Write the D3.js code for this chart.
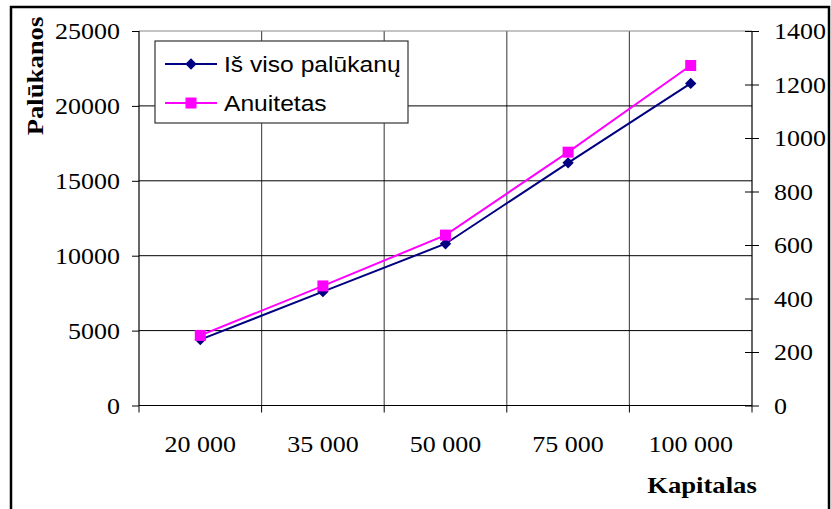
<!DOCTYPE html>
<html>
<head>
<meta charset="utf-8">
<script src="https://cdn.jsdelivr.net/npm/d3@7"></script>
<style>
  body { margin: 0; background: #fff; }
  svg { display: block; }
</style>
</head>
<body>
<svg id="chart"></svg>
<script>
(() => {
let categories = ['20 000', '35 000', '50 000', '75 000', '100 000'];
let totalInterest = [4400, 7600, 10800, 16200, 21500];   // left axis
let annuity = [262, 447, 637, 947, 1271];                // right axis
let leftTicks = [0, 5000, 10000, 15000, 20000, 25000];
let rightTicks = [0, 200, 400, 600, 800, 1000, 1200, 1400];
let seriesNames = ['Iš viso palūkanų', 'Anuitetas'];

let svgWidth = 831,
    svgHeight = 509,
    left = 139,
    right = 752,
    top = 31,
    bottom = 405.5,
    serif = '"Liberation Serif", "Times New Roman", serif',
    sans = '"Liberation Sans", Arial, sans-serif',
    stretch = 1.13;

let svg = d3.select('#chart')
    .attr('width', svgWidth)
    .attr('height', svgHeight);

svg.append('rect')
    .attr('x', 11).attr('y', 7)
    .attr('width', 818).attr('height', 520)
    .attr('fill', '#fff')
    .attr('stroke', '#000')
    .attr('stroke-width', 2.5);

let xScale = d3.scaleBand()
    .domain(categories)
    .range([left, right]);

let yLeft = d3.scaleLinear()
    .domain([0, 25000])
    .range([bottom, top]);

let yRight = d3.scaleLinear()
    .domain([0, 1400])
    .range([bottom, top]);

// vertical grid at category boundaries
let bounds = categories.map(c => xScale(c)).concat([right]);
svg.append('g').selectAll('line')
    .data(bounds.slice(1, -1))
    .enter()
    .append('line')
    .attr('x1', d => d).attr('x2', d => d)
    .attr('y1', top).attr('y2', bottom)
    .attr('stroke', '#555')
    .attr('stroke-width', 1.2);

// horizontal grid
svg.append('g').selectAll('line')
    .data(leftTicks.slice(1))
    .enter()
    .append('line')
    .attr('x1', left).attr('x2', right)
    .attr('y1', d => yLeft(d)).attr('y2', d => yLeft(d))
    .attr('stroke', d => d === 25000 ? '#888' : '#000')
    .attr('stroke-width', 1);

// left axis
let leftAxis = svg.append('g')
    .attr('transform', `translate(${left},0)`)
    .call(d3.axisLeft(yLeft).tickValues(leftTicks).tickSize(7).tickPadding(0).tickFormat(d3.format('d')));
leftAxis.selectAll('.tick text')
    .attr('x', null).attr('dy', '0.34em')
    .attr('transform', `translate(-19,0) scale(${stretch},1)`);

// right axis
let rightAxis = svg.append('g')
    .attr('transform', `translate(${right},0)`)
    .call(d3.axisRight(yRight).tickValues(rightTicks).tickSize(7).tickPadding(0).tickFormat(d3.format('d')));
rightAxis.selectAll('.tick line').attr('x1', -7);
rightAxis.selectAll('.tick text')
    .attr('x', null).attr('dy', '0.34em')
    .attr('transform', `translate(22,0) scale(${stretch},1)`);

// bottom axis
let xAxis = svg.append('g')
    .attr('transform', `translate(0,${bottom})`)
    .call(d3.axisBottom(xScale).tickSize(0).tickPadding(0));
xAxis.selectAll('.tick line').remove();
xAxis.selectAll('.tick text')
    .attr('y', null).attr('dy', null)
    .attr('transform', `translate(0,46) scale(${stretch},1)`);
svg.append('g').selectAll('line')
    .data(bounds)
    .enter()
    .append('line')
    .attr('x1', d => d).attr('x2', d => d)
    .attr('y1', bottom).attr('y2', bottom + 7)
    .attr('stroke', '#000');

[leftAxis, rightAxis, xAxis].forEach(a => {
  a.select('.domain').attr('stroke', '#000').attr('stroke-width', 1.2);
  a.selectAll('text')
    .attr('font-family', serif)
    .attr('font-size', 23)
    .attr('fill', '#000');
});
leftAxis.select('.domain').attr('d', `M0,${top}V${bottom}`);
rightAxis.select('.domain').attr('d', `M0,${top}V${bottom}`);
xAxis.select('.domain').attr('d', `M${left},0H${right}`);

// axis titles
svg.append('text')
    .text('Palūkanos')
    .attr('transform', `translate(43,76) rotate(-90) scale(1.16,1)`)
    .attr('text-anchor', 'middle')
    .attr('font-family', serif)
    .attr('font-weight', 'bold')
    .attr('font-size', 23);

svg.append('text')
    .text('Kapitalas')
    .attr('transform', `translate(702,493) scale(1.16,1)`)
    .attr('text-anchor', 'middle')
    .attr('font-family', serif)
    .attr('font-weight', 'bold')
    .attr('font-size', 23);

// lines
let cx = d => xScale(d) + xScale.bandwidth() / 2;

let lineLeft = d3.line()
    .x((d, i) => cx(categories[i]))
    .y(d => yLeft(d));
let lineRight = d3.line()
    .x((d, i) => cx(categories[i]))
    .y(d => yRight(d));

svg.append('path')
    .datum(annuity)
    .attr('d', lineRight)
    .attr('fill', 'none')
    .attr('stroke', '#ff00ff')
    .attr('stroke-width', 2);

svg.append('path')
    .datum(totalInterest)
    .attr('d', lineLeft)
    .attr('fill', 'none')
    .attr('stroke', '#000080')
    .attr('stroke-width', 2);

svg.append('g').selectAll('path')
    .data(totalInterest)
    .enter()
    .append('path')
    .attr('d', d3.symbol(d3.symbolDiamond2, 82))
    .attr('transform', (d, i) => `translate(${cx(categories[i])},${yLeft(d)})`)
    .attr('fill', '#000080');

svg.append('g').selectAll('rect')
    .data(annuity)
    .enter()
    .append('rect')
    .attr('x', (d, i) => cx(categories[i]) - 5.5)
    .attr('y', d => yRight(d) - 5.5)
    .attr('width', 11).attr('height', 11)
    .attr('fill', '#ff00ff');

// legend
let legend = svg.append('g');
legend.append('rect')
    .attr('x', 155).attr('y', 41)
    .attr('width', 253).attr('height', 82)
    .attr('fill', '#fff')
    .attr('stroke', '#333')
    .attr('stroke-width', 1.2);

let legendRows = [
  { name: seriesNames[0], color: '#000080', y: 64, marker: 'diamond' },
  { name: seriesNames[1], color: '#ff00ff', y: 103, marker: 'square' }
];
legendRows.forEach(r => {
  legend.append('line')
    .attr('x1', 165).attr('x2', 217)
    .attr('y1', r.y).attr('y2', r.y)
    .attr('stroke', r.color).attr('stroke-width', 2);
  if (r.marker === 'diamond') {
    legend.append('path')
      .attr('d', d3.symbol(d3.symbolDiamond2, 82))
      .attr('transform', `translate(191,${r.y})`)
      .attr('fill', r.color);
  } else {
    legend.append('rect')
      .attr('x', 185.5).attr('y', r.y - 5.5)
      .attr('width', 11).attr('height', 11)
      .attr('fill', r.color);
  }
  legend.append('text')
    .text(r.name)
    .attr('transform', `translate(224,${r.y + 8}) scale(1.12,1)`)
    .attr('font-family', sans)
    .attr('font-size', 22)
    .attr('fill', '#000');
});
})();
</script>
</body>
</html>
